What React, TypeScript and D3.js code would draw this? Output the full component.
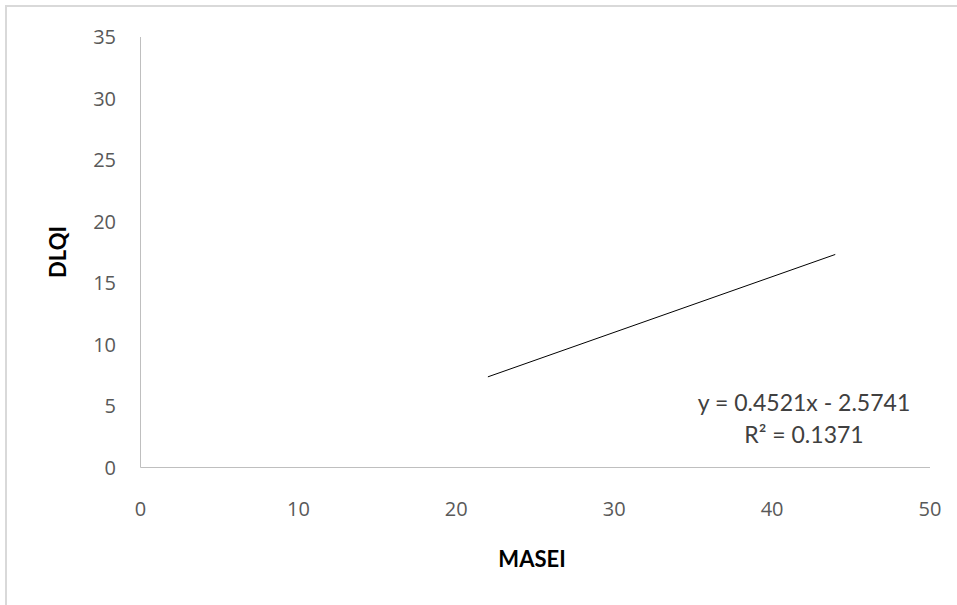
import React from "react";
import * as d3 from "d3";

const xTicks = [0, 10, 20, 30, 40, 50];
const yTicks = [0, 5, 10, 15, 20, 25, 30, 35];
const trendX = [22, 44];
const trendY = [7.37, 17.32];
const equationLines = ["y = 0.4521x - 2.5741", "R² = 0.1371"];
const xTitle = "MASEI";
const yTitle = "DLQI";

export default function App() {
  const W = 957, H = 605;
  const x = d3.scaleLinear().domain([0, 50]).range([140.5, 930]);
  const y = d3.scaleLinear().domain([0, 35]).range([467.5, 37]);
  const line = d3.line<number>().x((d) => x(trendX[d])).y((d) => y(trendY[d]));
  const tickFont = "'Open Sans', sans-serif";
  const font = "Lato, 'Open Sans', sans-serif";
  return (
    <svg width={W} height={H} style={{ position: "absolute", left: 0, top: 0 }}>
      <rect x={0} y={0} width={W} height={H} fill="#fff" />
      <rect x={6} y={6} width={W + 10} height={H + 10} fill="none" stroke="#d9d9d9" strokeWidth={2} />
      <line x1={x(0)} x2={x(0)} y1={y(35)} y2={y(0)} stroke="#bfbfbf" strokeWidth={1} />
      <line x1={x(0)} x2={x(50)} y1={y(0)} y2={y(0)} stroke="#bfbfbf" strokeWidth={1} />
      {yTicks.map((t) => (
        <text key={"y" + t} x={116} y={y(t)} dy="0.36em" textAnchor="end" fontSize={20} fill="#595959" fontFamily={tickFont}>
          {t}
        </text>
      ))}
      {xTicks.map((t) => (
        <text key={"x" + t} x={x(t)} y={508.5} dy="0.36em" textAnchor="middle" fontSize={20} fill="#595959" fontFamily={tickFont}>
          {t}
        </text>
      ))}
      <path d={line([0, 1]) || ""} stroke="#000" strokeWidth={1} fill="none" />
      {equationLines.map((s, i) => (
        <text key={s} x={804} y={411 + i * 32} textAnchor="middle" fontSize={23} fill="#404040" fontFamily={font}>
          {s}
        </text>
      ))}
      <text x={532} y={567} textAnchor="middle" fontSize={22} fontWeight="bold" fill="#000" fontFamily={font}>
        {xTitle}
      </text>
      <text transform={`translate(58.5,252) rotate(-90)`} dy="0.36em" textAnchor="middle" fontSize={22} fontWeight="bold" fill="#000" fontFamily={font}>
        {yTitle}
      </text>
    </svg>
  );
}
